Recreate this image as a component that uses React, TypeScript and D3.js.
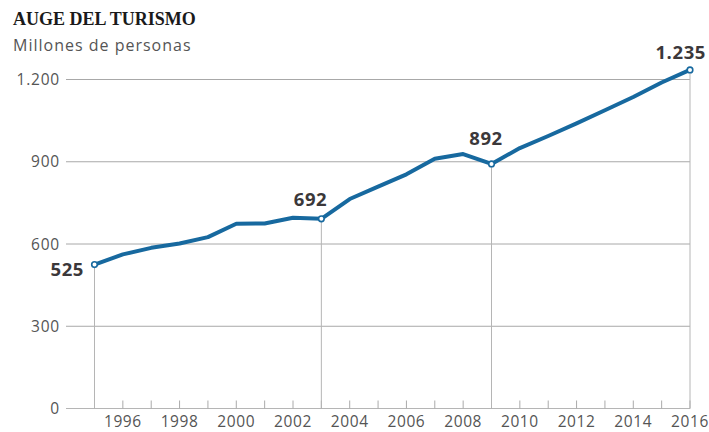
import React from "react";
import * as d3 from "d3";

const years = [1995, 1996, 1997, 1998, 1999, 2000, 2001, 2002, 2003, 2004, 2005, 2006, 2007, 2008, 2009, 2010, 2011, 2012, 2013, 2014, 2015, 2016];
const values = [525, 562, 586, 602, 625, 674, 675, 696, 692, 764, 809, 854, 911, 928, 892, 950, 994, 1040, 1088, 1136, 1189, 1235];
const yTicks = [0, 300, 600, 900, 1200];
const xLabelYears = [1996, 1998, 2000, 2002, 2004, 2006, 2008, 2010, 2012, 2014, 2016];
const highlightYears = [1995, 2003, 2009, 2016];

const W = 709;
const H = 432;
const BLUE = "#17699f";
const SANS = "'Open Sans', 'Noto Sans', sans-serif";

const fmt = (v: number) => d3.format(",")(v).replace(/,/g, ".");

export default function App() {
  const x = d3.scaleLinear().domain([1995, 2016]).range([94.5, 690]);
  const y = d3.scaleLinear().domain([0, 1200]).range([408.5, 79.5]);
  const line = d3
    .line<number>()
    .x((_, i) => x(years[i]))
    .y((d) => y(d));

  const idx = (yr: number) => years.indexOf(yr);

  return (
    <svg
      width={W}
      height={H}
      style={{ position: "absolute", left: 0, top: 0, background: "#fff" }}
    >
      <text x={13} y={25} fontFamily="'Liberation Serif', 'DejaVu Serif', serif" fontWeight="bold" fontSize={18} fill="#1a1a1a">
        AUGE DEL TURISMO
      </text>
      <text x={13} y={51} fontFamily={SANS} fontSize={16} letterSpacing={1} fill="#555">
        Millones de personas
      </text>

      {yTicks.map((t) => (
        <g key={t}>
          <line x1={66} x2={690} y1={y(t)} y2={y(t)} stroke={t === 0 ? "#b5b5b5" : "#a8a8a8"} strokeWidth={1} />
          <text x={60} y={y(t) + 5.5} textAnchor="end" fontFamily={SANS} fontSize={15.5} letterSpacing={0.8} fill="#555">
            {fmt(t)}
          </text>
        </g>
      ))}

      {years.map((yr) => (
        <line key={yr} x1={x(yr)} x2={x(yr)} y1={y(0)} y2={y(0) - 8} stroke="#aaa" strokeWidth={1} />
      ))}

      {highlightYears.map((yr) => (
        <line key={"v" + yr} x1={x(yr)} x2={x(yr)} y1={y(0)} y2={y(values[idx(yr)])} stroke="#b5b5b5" strokeWidth={1} />
      ))}

      {xLabelYears.map((yr) => (
        <text key={"l" + yr} x={x(yr)} y={427} textAnchor="middle" fontFamily={SANS} fontSize={15.5} letterSpacing={0.6} fill="#555">
          {yr}
        </text>
      ))}

      <path d={line(values) || ""} fill="none" stroke={BLUE} strokeWidth={4} strokeLinejoin="round" />

      {highlightYears.map((yr) => (
        <circle key={"c" + yr} cx={x(yr)} cy={y(values[idx(yr)])} r={2.8} fill="#fff" stroke={BLUE} strokeWidth={1.6} />
      ))}

      <text x={84} y={276} textAnchor="end" fontFamily={SANS} fontWeight="bold" fontSize={18.5} letterSpacing={0.6} fill="#3b383a">
        {fmt(values[idx(1995)])}
      </text>
      <text x={310.5} y={206} textAnchor="middle" fontFamily={SANS} fontWeight="bold" fontSize={18.5} letterSpacing={0.6} fill="#3b383a">
        {fmt(values[idx(2003)])}
      </text>
      <text x={486} y={145} textAnchor="middle" fontFamily={SANS} fontWeight="bold" fontSize={18.5} letterSpacing={0.6} fill="#3b383a">
        {fmt(values[idx(2009)])}
      </text>
      <text x={706} y={59} textAnchor="end" fontFamily={SANS} fontWeight="bold" fontSize={18.5} letterSpacing={0.6} fill="#3b383a">
        {fmt(values[idx(2016)])}
      </text>
    </svg>
  );
}
